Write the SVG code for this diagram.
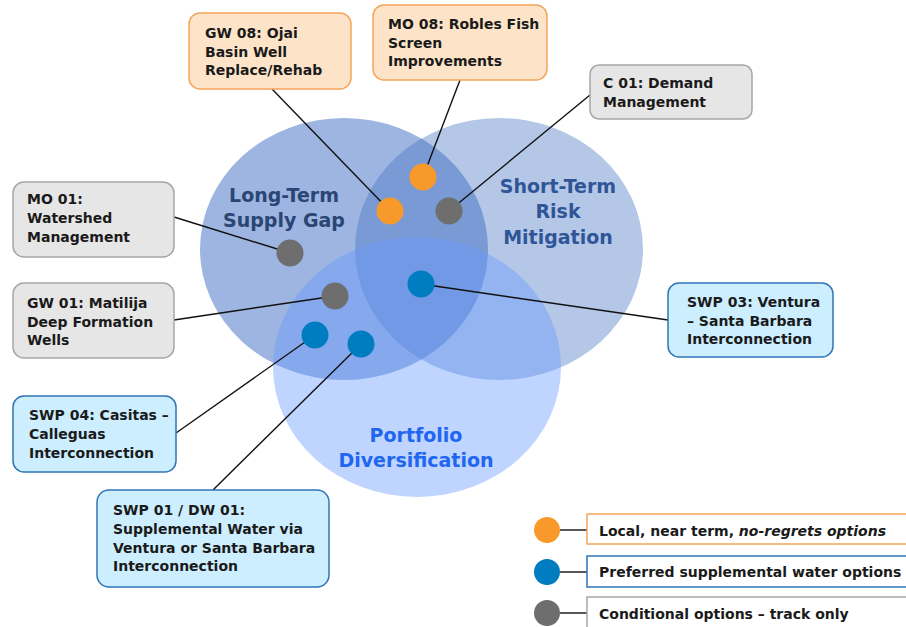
<svg xmlns="http://www.w3.org/2000/svg" width="906" height="627" viewBox="0 0 906 627">
<style>
text{font-family:"DejaVu Sans","Liberation Sans",sans-serif;font-weight:bold;}
.bt{font-size:14px;fill:#1a1a1a;}
.box-o{fill:#FDE4C8;stroke:#F4A55A;stroke-width:1.5;}
.box-g{fill:#E7E6E6;stroke:#A6A6A6;stroke-width:1.5;}
.box-b{fill:#CCEEFF;stroke:#2E75B6;stroke-width:1.5;}
.dot-o{fill:#F7992B;}
.dot-b{fill:#007DC0;}
.dot-g{fill:#6E6E6E;}
.conn line{stroke:#111;stroke-width:1.4;}
.lab{font-size:19px;text-anchor:middle;}
</style>
<rect width="906" height="627" fill="#fff"/>
<g id="set-long-term">
<ellipse cx="344" cy="249" rx="144" ry="131" fill="#4472C4" fill-opacity="0.52"/>
</g>
<g id="set-short-term">
<ellipse cx="499" cy="249" rx="144" ry="131" fill="#4472C4" fill-opacity="0.4"/>
</g>
<g id="set-portfolio">
<ellipse cx="417" cy="367" rx="144" ry="130" fill="#6699FF" fill-opacity="0.42"/>
</g>
<text class="lab" x="284" y="202" fill="#2B4574">Long-Term</text>
<text class="lab" x="284" y="227" fill="#2B4574">Supply Gap</text>
<text class="lab" x="558" y="193" fill="#2F5597">Short-Term</text>
<text class="lab" x="558" y="218" fill="#2F5597">Risk</text>
<text class="lab" x="558" y="244" fill="#2F5597">Mitigation</text>
<text class="lab" x="416" y="442" fill="#1F66F0">Portfolio</text>
<text class="lab" x="416" y="467" fill="#1F66F0">Diversification</text>
<g class="conn" id="connectors">
<line x1="272" y1="89" x2="390" y2="211"/>
<line x1="460" y1="80" x2="423" y2="177"/>
<line x1="590" y1="95" x2="449" y2="211"/>
<line x1="174" y1="217" x2="290" y2="253"/>
<line x1="174" y1="320" x2="335" y2="296"/>
<line x1="668" y1="320" x2="421" y2="284"/>
<line x1="176" y1="433" x2="315" y2="335"/>
<line x1="213" y1="490" x2="361" y2="344"/>
<line x1="560" y1="530" x2="587" y2="530"/>
<line x1="560" y1="572" x2="587" y2="572"/>
<line x1="560" y1="613" x2="587" y2="613"/>
</g>
<g id="dots">
<circle class="dot-o" cx="423" cy="177" r="13.5"/>
<circle class="dot-o" cx="390" cy="211" r="13.5"/>
<circle class="dot-g" cx="449" cy="211" r="13.5"/>
<circle class="dot-g" cx="290" cy="253" r="13.5"/>
<circle class="dot-g" cx="335" cy="296" r="13.5"/>
<circle class="dot-b" cx="421" cy="284" r="13.5"/>
<circle class="dot-b" cx="315" cy="335" r="13.5"/>
<circle class="dot-b" cx="361" cy="344" r="13.5"/>
</g>
<g id="node-gw08">
<rect class="box-o" x="189" y="13" width="162" height="76" rx="11"/>
<text class="bt" x="205" y="38">GW 08: Ojai</text>
<text class="bt" x="205" y="57">Basin Well</text>
<text class="bt" x="205" y="75">Replace/Rehab</text>
</g>
<g id="node-mo08">
<rect class="box-o" x="373" y="5" width="174" height="75" rx="11"/>
<text class="bt" x="388" y="29">MO 08: Robles Fish</text>
<text class="bt" x="388" y="48">Screen</text>
<text class="bt" x="388" y="66">Improvements</text>
</g>
<g id="node-c01">
<rect class="box-g" x="590" y="65" width="162" height="54" rx="9"/>
<text class="bt" x="603" y="88">C 01: Demand</text>
<text class="bt" x="603" y="107">Management</text>
</g>
<g id="node-mo01">
<rect class="box-g" x="13" y="182" width="161" height="75" rx="11"/>
<text class="bt" x="27" y="204">MO 01:</text>
<text class="bt" x="27" y="223">Watershed</text>
<text class="bt" x="27" y="242">Management</text>
</g>
<g id="node-gw01">
<rect class="box-g" x="13" y="283" width="161" height="75" rx="11"/>
<text class="bt" x="27" y="308">GW 01: Matilija</text>
<text class="bt" x="27" y="327">Deep Formation</text>
<text class="bt" x="27" y="345">Wells</text>
</g>
<g id="node-swp04">
<rect class="box-b" x="13" y="396" width="163" height="76" rx="11"/>
<text class="bt" x="29" y="420">SWP 04: Casitas –</text>
<text class="bt" x="29" y="439">Calleguas</text>
<text class="bt" x="29" y="458">Interconnection</text>
</g>
<g id="node-swp01">
<rect class="box-b" x="97" y="490" width="232" height="97" rx="12"/>
<text class="bt" x="113" y="515">SWP 01 / DW 01:</text>
<text class="bt" x="113" y="534">Supplemental Water via</text>
<text class="bt" x="113" y="553">Ventura or Santa Barbara</text>
<text class="bt" x="113" y="571">Interconnection</text>
</g>
<g id="node-swp03">
<rect class="box-b" x="668" y="283" width="165" height="74" rx="11"/>
<text class="bt" x="687" y="307">SWP 03: Ventura</text>
<text class="bt" x="687" y="326">– Santa Barbara</text>
<text class="bt" x="687" y="344">Interconnection</text>
</g>
<g id="legend">
<circle class="dot-o" cx="547" cy="530" r="13"/>
<rect x="587" y="514" width="340" height="30" fill="#fff" stroke="#F4A55A" stroke-width="1.5"/>
<text class="bt" x="599" y="536">Local, near term, <tspan font-style="italic">no-regrets options</tspan></text>
<circle class="dot-b" cx="547" cy="572" r="13"/>
<rect x="587" y="556" width="340" height="31" fill="#fff" stroke="#2E75B6" stroke-width="1.5"/>
<text class="bt" x="599" y="577">Preferred supplemental water options</text>
<circle class="dot-g" cx="547" cy="613" r="13"/>
<rect x="587" y="597" width="340" height="40" fill="#fff" stroke="#A6A6A6" stroke-width="1.5"/>
<text class="bt" x="599" y="619">Conditional options – track only</text>
</g>
</svg>
